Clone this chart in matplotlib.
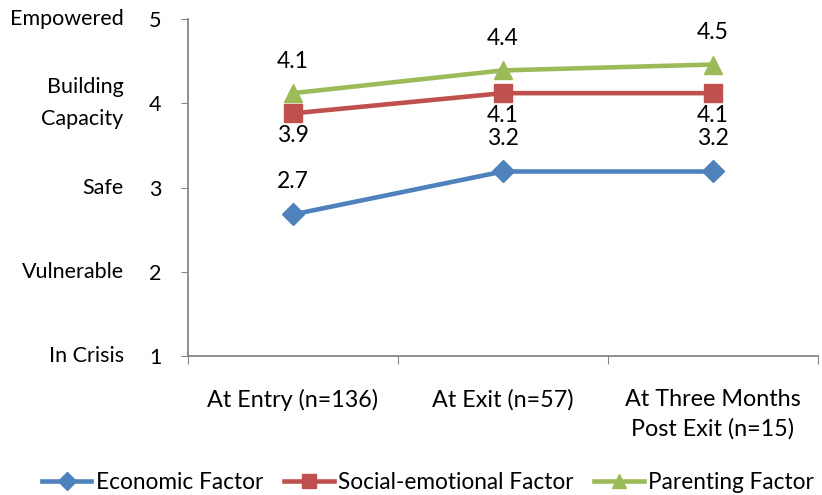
import matplotlib
matplotlib.use("Agg")
import matplotlib.pyplot as plt

plt.rcParams["font.family"] = ["Lato", "DejaVu Sans"]

# Data
stages = ["At Entry (n=136)", "At Exit (n=57)", "At Three Months\nPost Exit (n=15)"]
economic = [2.68, 3.19, 3.19]
social = [3.88, 4.12, 4.12]
parenting = [4.12, 4.39, 4.46]
level_values = [5, 4, 3, 2, 1]
level_names = ["Empowered", "Building\nCapacity", "Safe", "Vulnerable", "In Crisis"]

series = [
    ("Economic Factor", economic, "#4F81BD", "D", 11, 24),
    ("Social-emotional Factor", social, "#C0504D", "s", 12.5, -16),
    ("Parenting Factor", parenting, "#9BBB59", "^", 12.5, 23),
]

FS = 15.5

fig = plt.figure(figsize=(8.22, 4.95), dpi=100)
ax = fig.add_axes([0.2287, 0.2808, 0.7663, 0.6808])

x = list(range(len(stages)))
for name, vals, color, marker, ms, dy in series:
    ax.plot(x, vals, color=color, lw=3.3, marker=marker, markersize=ms,
            markeredgecolor=color, label=name, zorder=3)
    for xi, v in zip(x, vals):
        ax.annotate(f"{v:.1f}", (xi, v), xytext=(0, dy), textcoords="offset points",
                    ha="center", va="center", fontsize=16.5, color="black")

ax.set_xlim(-0.5, len(stages) - 0.5)
ax.set_ylim(1, 5)
ax.set_yticks(level_values)
ax.set_yticklabels([str(v) for v in level_values], fontsize=FS)
ax.set_xticks([-0.5, 0.5, 1.5, 2.5])
ax.set_xticklabels([])
ax.set_xticks(x, minor=True)
ax.set_xticklabels(stages, minor=True, fontsize=16.8, ha="center", linespacing=1.45)
ax.tick_params(axis="x", which="minor", length=0, pad=24)
ax.tick_params(axis="x", which="major", direction="out", length=6, color="#868686")
ax.tick_params(axis="y", direction="out", length=5, color="#868686", pad=14)

for side in ["top", "right"]:
    ax.spines[side].set_visible(False)
for side in ["left", "bottom"]:
    ax.spines[side].set_color("#868686")
    ax.spines[side].set_linewidth(1.3)

# Level names to the left of the numeric ticks
for v, name in zip(level_values, level_names):
    ax.text(-0.102, v, name, transform=ax.get_yaxis_transform(),
            ha="right", va="center", fontsize=FS, linespacing=1.75)

ax.legend(loc="center", bbox_to_anchor=(0.381, -0.374), ncol=3, frameon=False,
          fontsize=16.3, handlelength=2.2, handletextpad=0.2, columnspacing=0.9,
          markerscale=0.8)

fig.savefig("out.png", dpi=100)
